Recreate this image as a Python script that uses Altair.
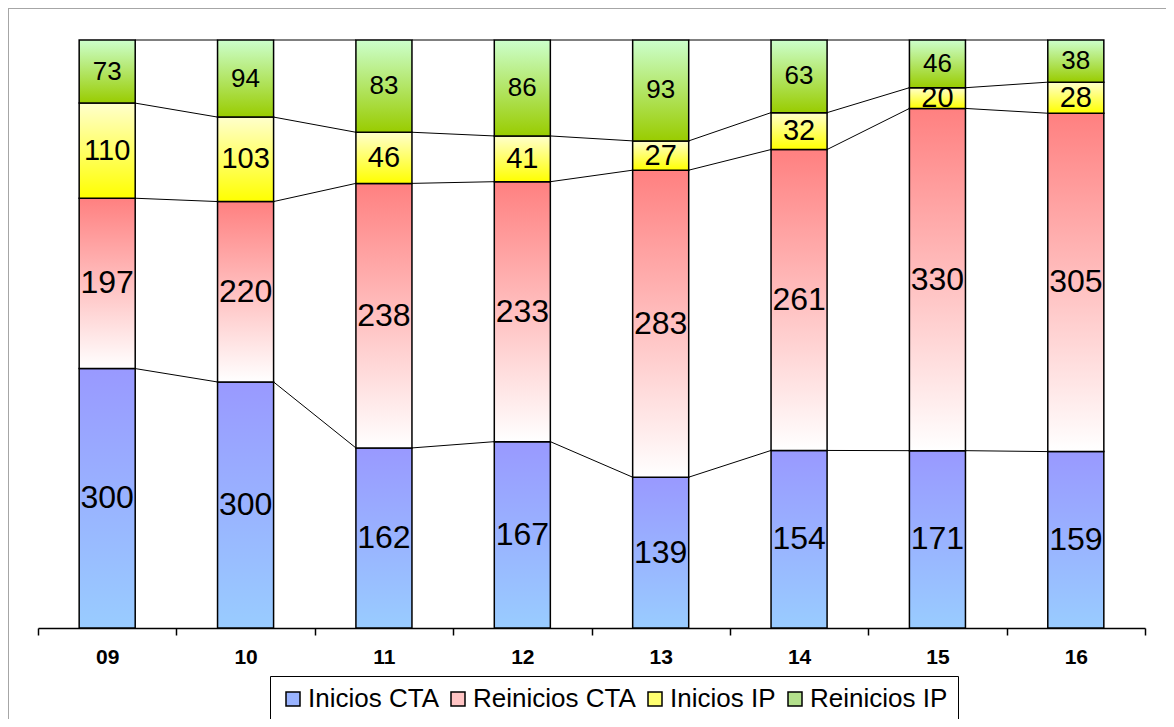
import altair as alt
import pandas as pd

years = ["09", "10", "11", "12", "13", "14", "15", "16"]
series_names = ["Inicios CTA", "Reinicios CTA", "Inicios IP", "Reinicios IP"]
inicios_cta = [300, 300, 162, 167, 139, 154, 171, 159]
reinicios_cta = [197, 220, 238, 233, 283, 261, 330, 305]
inicios_ip = [110, 103, 46, 41, 27, 32, 20, 28]
reinicios_ip = [73, 94, 83, 86, 93, 63, 46, 38]

top_colors = ["#9999FF", "#FF8080", "#FFFFCC", "#CCFFCC"]
bottom_colors = ["#99CCFF", "#FFFFFF", "#FFFF00", "#99CC00"]
legend_colors = ["#99B3FF", "#FFC4C4", "#FFFF70", "#B3E08C"]
label_sizes = [32, 32, 29, 26]

rows = []
for k, (name, vals) in enumerate(zip(series_names, [inicios_cta, reinicios_cta, inicios_ip, reinicios_ip])):
    for yr, v in zip(years, vals):
        rows.append({"year": yr, "series": name, "order": k, "value": v})
df = pd.DataFrame(rows)

W, H = 1158, 711
BAR = 0.405  # bar width as fraction of category step

base = (
    alt.Chart(df)
    .transform_joinaggregate(total="sum(value)", groupby=["year"])
    .transform_window(cum="sum(value)", groupby=["year"], sort=[alt.SortField("order")], frame=[None, 0])
    .transform_calculate(
        y0="(datum.cum - datum.value) / datum.total",
        y1="datum.cum / datum.total",
        ymid="(datum.cum - datum.value / 2) / datum.total",
    )
)

x_scale = alt.Scale(range=[30, 1137], paddingInner=0, paddingOuter=0)
x_axis = alt.Axis(
    orient="bottom", offset=-91, title=None, grid=False, labelAngle=0,
    domainColor="black", domainWidth=1.5, tickColor="black", tickWidth=1.5,
    tickSize=7, tickBand="extent", labelFont="Liberation Sans", labelFontSize=21,
    labelFontWeight="bold", labelColor="black", labelPadding=11,
)
y_scale = alt.Scale(domain=[0, 1], range=[620, 32], nice=False, zero=False)


def xenc(**kw):
    return alt.X("year:N", scale=x_scale, axis=x_axis, **kw)


rules = (
    base.transform_window(
        next_year="lead(year)", next_y="lead(y1)", groupby=["series"], sort=[alt.SortField("year")]
    )
    .transform_filter("datum.next_year != null")
    .mark_rule(color="black", strokeWidth=1)
    .encode(
        x=xenc(bandPosition=0.5 + BAR / 2),
        x2=alt.X2("next_year", bandPosition=0.5 - BAR / 2),
        y=alt.Y("y1:Q", scale=y_scale, axis=None),
        y2="next_y:Q",
    )
)

solid = base.mark_bar(strokeWidth=0, width=alt.RelativeBandSize(BAR)).encode(
    x=xenc(),
    y=alt.Y("y0:Q", scale=y_scale, axis=None),
    y2="y1:Q",
    color=alt.Color(
        "series:N",
        scale=alt.Scale(domain=series_names, range=legend_colors),
        legend=alt.Legend(
            title=None, orient="none", legendX=262, legendY=668, direction="horizontal",
            labelFont="Liberation Sans", labelFontSize=26, labelColor="black", labelLimit=400,
            symbolType="square", symbolSize=196, symbolStrokeColor="black", symbolStrokeWidth=1.5,
            strokeColor="black", padding=10, columnPadding=6, labelOffset=2,
        ),
    ),
)

grad_layers = []
text_layers = []
for name, tc, bc, fs in zip(series_names, top_colors, bottom_colors, label_sizes):
    grad = alt.Gradient(
        gradient="linear",
        stops=[alt.GradientStop(color=tc, offset=0), alt.GradientStop(color=bc, offset=1)],
        x1=0, x2=0, y1=0, y2=1,
    )
    sub = base.transform_filter(alt.datum.series == name)
    grad_layers.append(
        sub.mark_bar(fill=grad, stroke="black", strokeWidth=1.5, width=alt.RelativeBandSize(BAR))
        .encode(x=xenc(), y=alt.Y("y0:Q", scale=y_scale, axis=None), y2="y1:Q")
    )
    text_layers.append(
        sub.mark_text(font="Liberation Sans", fontSize=fs, color="black", baseline="middle", align="center")
        .encode(x=xenc(), y=alt.Y("ymid:Q", scale=y_scale, axis=None), text="value:Q")
    )

frame_df = pd.DataFrame({"a": [0]})
frame_top = alt.Chart(frame_df).mark_rule(color="#A6A6A6", strokeWidth=2).encode(
    x=alt.value(0), x2=alt.value(W), y=alt.value(0)
)
frame_left = alt.Chart(frame_df).mark_rule(color="#A6A6A6", strokeWidth=2).encode(
    x=alt.value(0), y=alt.value(0), y2=alt.value(H)
)

chart = (
    alt.layer(frame_top, frame_left, rules, solid, *grad_layers, *text_layers)
    .properties(width=W, height=H, padding=0, autosize=alt.AutoSizeParams(type="none"))
    .configure_view(stroke=None)
    .configure(background="white")
)

chart.save("out.html", embed_options={"renderer": "svg", "actions": False})
